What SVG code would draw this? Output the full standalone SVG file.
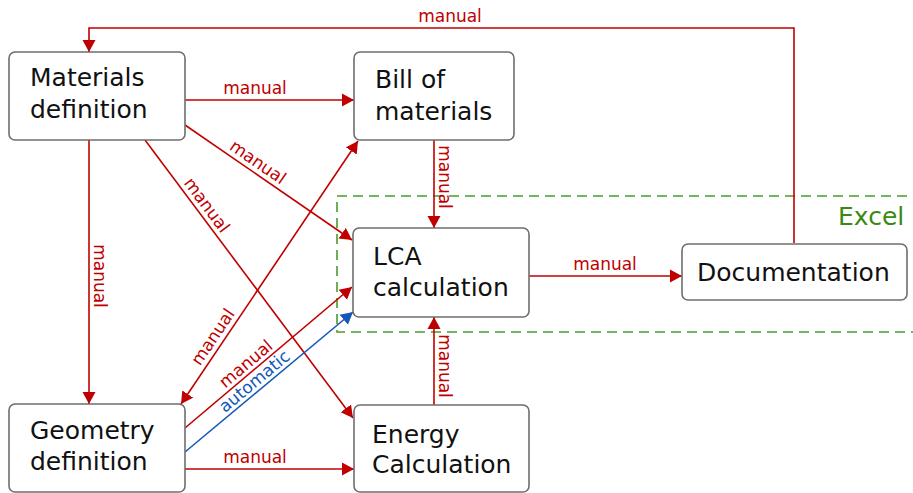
<svg xmlns="http://www.w3.org/2000/svg" width="913" height="493" viewBox="0 0 913 493">
  <style>
    .node rect { fill: #ffffff; stroke: #6e6e6e; stroke-width: 1.6; }
    .node text { font-family: "DejaVu Sans", Verdana, sans-serif; font-size: 25px; fill: #111111; }
    .wire { fill: none; stroke: #c00000; stroke-width: 1.6; }
    .wire.auto { stroke: #1459b8; }
    .lbl { font-family: "DejaVu Sans", Verdana, sans-serif; font-size: 17px; fill: #c00000; text-anchor: middle; }
    .lbl.auto { fill: #1459b8; }
    .zone { fill: none; stroke: #4c9a2a; stroke-width: 1.6; stroke-dasharray: 10 6; }
    .zone-name { font-family: "DejaVu Sans", Verdana, sans-serif; font-size: 25px; fill: #3a8a12; }
  </style>
  <defs>
    <marker id="ah" markerUnits="userSpaceOnUse" markerWidth="13" markerHeight="14" refX="12" refY="6.5" orient="auto-start-reverse" viewBox="0 0 13 13">
      <path d="M0,0 L12,6.5 L0,13 z" fill="#c00000"/>
    </marker>
    <marker id="ah-blue" markerUnits="userSpaceOnUse" markerWidth="13" markerHeight="14" refX="12" refY="6.5" orient="auto" viewBox="0 0 13 13">
      <path d="M0,0 L12,6.5 L0,13 z" fill="#1459b8"/>
    </marker>
  </defs>

  <!-- Excel region -->
  <g id="excel-zone">
    <rect class="zone" x="337" y="196" width="600" height="136"/>
    <text class="zone-name" x="838" y="225">Excel</text>
  </g>

  <!-- connectors -->
  <g id="connectors">
    <!-- Documentation back to Materials definition -->
    <path class="wire" d="M794,243 V28 H89 V52" marker-end="url(#ah)"/>
    <text class="lbl" x="450" y="22">manual</text>

    <!-- Materials -> Bill of materials -->
    <path class="wire" d="M185,100 H354" marker-end="url(#ah)"/>
    <text class="lbl" x="255" y="94">manual</text>

    <!-- Materials -> LCA -->
    <path class="wire" d="M185,125 L352,240" marker-end="url(#ah)"/>
    <text class="lbl" transform="translate(251.8,171) rotate(34.55)" y="-5">manual</text>

    <!-- Materials -> Energy -->
    <path class="wire" d="M145,140 L353,418" marker-end="url(#ah)"/>
    <text class="lbl" transform="translate(198.2,211.5) rotate(53.33)" y="-5">manual</text>

    <!-- Materials -> Geometry -->
    <path class="wire" d="M89,140 V404" marker-end="url(#ah)"/>
    <text class="lbl" transform="translate(89,276) rotate(90)" y="-5">manual</text>

    <!-- Bill of materials -> LCA -->
    <path class="wire" d="M434,140 V228" marker-end="url(#ah)"/>
    <text class="lbl" transform="translate(434,177) rotate(90)" y="-5">manual</text>

    <!-- Geometry <-> Bill of materials -->
    <path class="wire" d="M181,404 L358,141" marker-start="url(#ah)" marker-end="url(#ah)"/>
    <text class="lbl" transform="translate(221.9,342.9) rotate(-56.16)" y="-5">manual</text>

    <!-- Geometry -> LCA (manual) -->
    <path class="wire" d="M185,428 L352,287" marker-end="url(#ah)"/>
    <text class="lbl" transform="translate(252.2,371.2) rotate(-40.17)" y="-4">manual</text>

    <!-- Geometry -> LCA (automatic) -->
    <path class="wire auto" d="M185,452 L353,312" marker-end="url(#ah-blue)"/>
    <text class="lbl auto" transform="translate(260.7,388.9) rotate(-39.81)" y="-4">automatic</text>

    <!-- Geometry -> Energy -->
    <path class="wire" d="M185,469 H354" marker-end="url(#ah)"/>
    <text class="lbl" x="255" y="463">manual</text>

    <!-- Energy -> LCA -->
    <path class="wire" d="M434,405 V317" marker-end="url(#ah)"/>
    <text class="lbl" transform="translate(434,366) rotate(90)" y="-5">manual</text>

    <!-- LCA -> Documentation -->
    <path class="wire" d="M529,276 H682" marker-end="url(#ah)"/>
    <text class="lbl" x="605" y="270">manual</text>
  </g>

  <!-- nodes -->
  <g id="materials" class="node">
    <rect x="9" y="52" width="176" height="88" rx="6"/>
    <text x="30" y="86">Materials</text>
    <text x="30" y="118">definition</text>
  </g>
  <g id="bill" class="node">
    <rect x="354" y="52" width="160" height="88" rx="6"/>
    <text x="375" y="88">Bill of</text>
    <text x="375" y="120">materials</text>
  </g>
  <g id="lca" class="node">
    <rect x="353" y="228" width="176" height="89" rx="6"/>
    <text x="373" y="265">LCA</text>
    <text x="373" y="296">calculation</text>
  </g>
  <g id="documentation" class="node">
    <rect x="682" y="244" width="225" height="56" rx="6"/>
    <text x="697" y="281">Documentation</text>
  </g>
  <g id="geometry" class="node">
    <rect x="9" y="404" width="176" height="88" rx="6"/>
    <text x="30" y="439">Geometry</text>
    <text x="30" y="470">definition</text>
  </g>
  <g id="energy" class="node">
    <rect x="354" y="405" width="175" height="87" rx="6"/>
    <text x="372" y="443">Energy</text>
    <text x="372" y="473">Calculation</text>
  </g>
</svg>
